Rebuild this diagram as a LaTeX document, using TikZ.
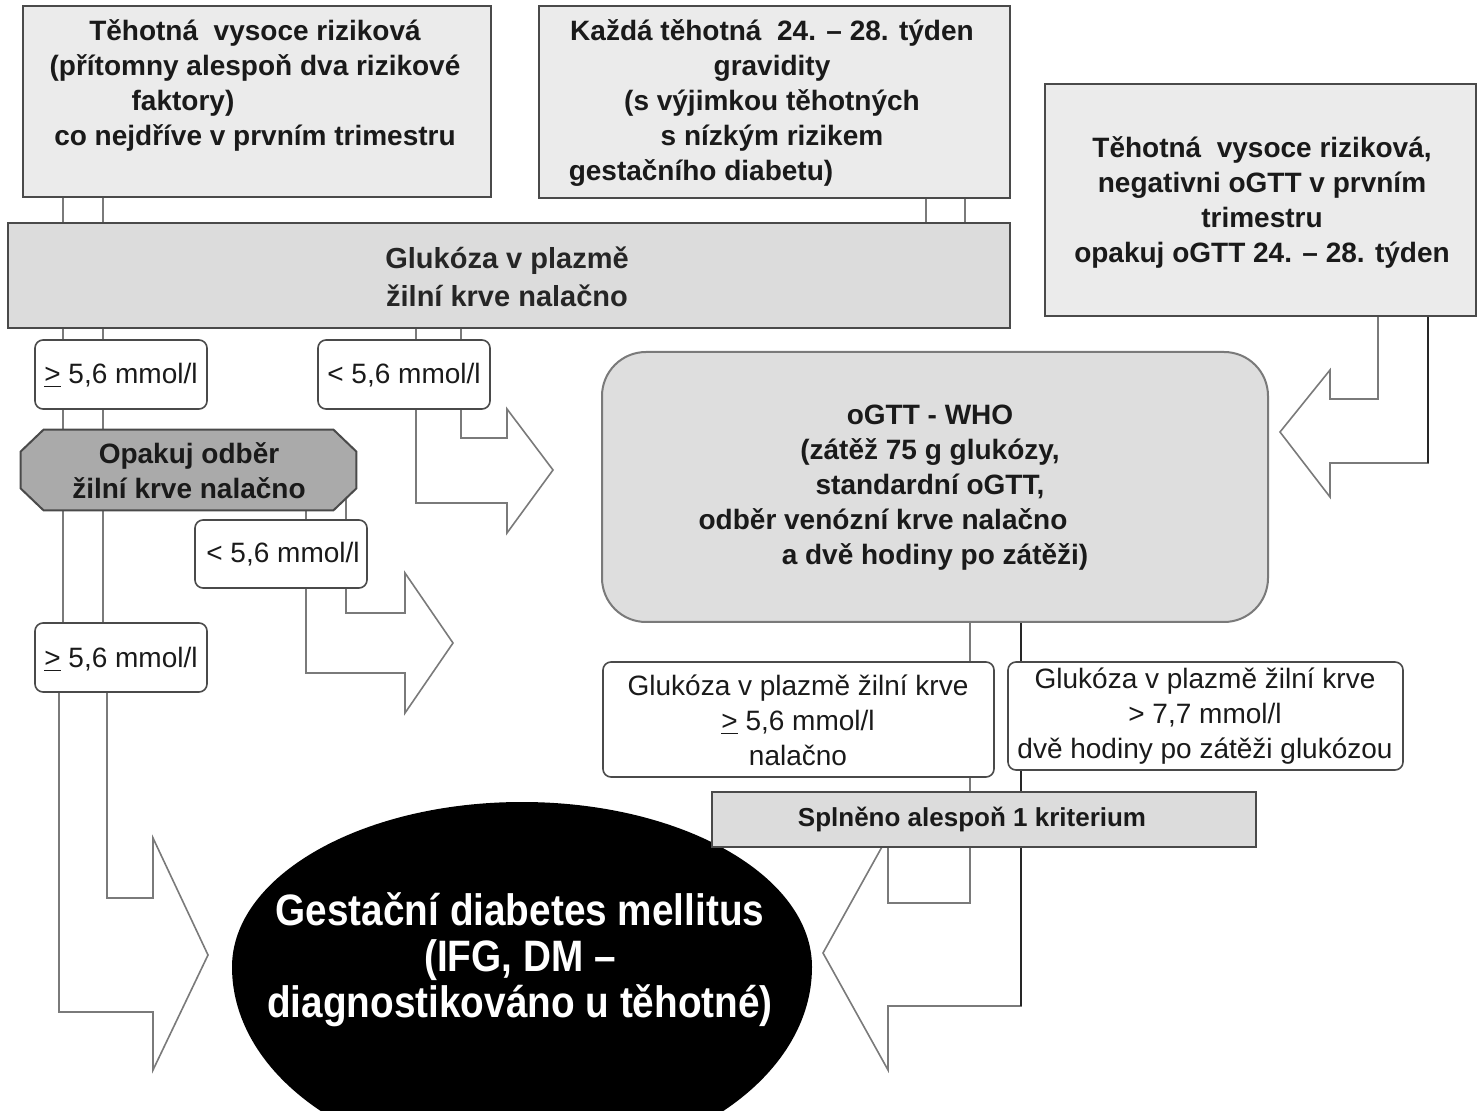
\documentclass[tikz,border=0pt]{standalone}
\usepackage{fontspec}
\setmainfont{Liberation Sans}
\newfontfamily\narrowfont[FakeStretch=0.88]{Liberation Sans}
\definecolor{boxfill}{HTML}{EBEBEB}
\definecolor{barfill}{HTML}{DCDCDC}
\definecolor{ogttfill}{HTML}{DEDEDE}
\definecolor{opkfill}{HTML}{AAAAAA}
\definecolor{edge}{HTML}{4A4A4A}
\definecolor{arrowgray}{HTML}{7A7A7A}
\definecolor{txt}{HTML}{1A1A1A}
\newcommand\pbox[6]{\node[#6, minimum width={(#4-#2)*0.5pt}, minimum height={(#5-#3)*0.5pt}] (#1) at ({(#2+#4)/2},{(#3+#5)/2}) {};}
\tikzset{
  graybox/.style={draw=edge, fill=boxfill, line width=1pt, inner sep=0pt},
  barbox/.style={draw=edge, fill=barfill, line width=1pt, inner sep=0pt},
  valbox/.style={draw=edge, fill=white, rounded corners=4pt, line width=0.8pt, inner sep=0pt},
  ogttbox/.style={draw=arrowgray, fill=ogttfill, rounded corners=22pt, line width=1pt, inner sep=0pt},
  blk/.style={draw=arrowgray, line width=0.8pt, line join=miter},
  darkline/.style={draw=black!85, line width=0.9pt},
  bt/.style={font=\fontsize{14}{17.5}\selectfont\bfseries, text=txt, align=center, inner sep=0pt},
  vt/.style={font=\fontsize{14}{17.5}\selectfont, text=txt, align=center, inner sep=0pt},
}
\begin{document}
\begin{tikzpicture}[x=0.5pt, y=-0.5pt]
\useasboundingbox (0,0) rectangle (1477,1111);
\fill[white] (0,0) rectangle (1477,1111);
\begin{scope}
\clip (0,0) rectangle (1477,1111);

% ---- block arrow outlines (behind boxes) ----
\draw[blk] (63,197) -- (63,623);
\draw[blk] (103,197) -- (103,623);
\draw[blk] (59,692) -- (59,1012) -- (153,1012) -- (153,1070) -- (208,955) -- (153,838) -- (153,898) -- (107,898) -- (107,692);
\draw[blk] (926,198) -- (926,223);
\draw[blk] (965,198) -- (965,223);
\draw[blk] (416,328) -- (416,340);
\draw[blk] (461,328) -- (461,340);
\draw[blk] (461,409) -- (461,438) -- (507,438) -- (507,409) -- (553,470) -- (507,533) -- (507,503) -- (416,503) -- (416,409);
\draw[blk] (306,505) -- (306,520);
\draw[blk] (346,480) -- (346,520);
\draw[blk] (346,588) -- (346,613) -- (405,613) -- (405,573) -- (453,643) -- (405,713) -- (405,673) -- (306,673) -- (306,588);
\draw[blk] (1378,316) -- (1378,399) -- (1330,399) -- (1330,370) -- (1280,432) -- (1330,497) -- (1330,463) -- (1428,463) -- (1428,316);
\draw[darkline] (1428,316) -- (1428,463);
\draw[blk] (970,622) -- (970,903) -- (888,903) -- (888,836) -- (823,953) -- (888,1070) -- (888,1006) -- (1021,1006) -- (1021,622);
\draw[darkline] (1021,622) -- (1021,1006);

% ---- boxes ----
\pbox{boxA}{23}{6}{491}{197}{graybox}
\pbox{boxB}{539}{6}{1010}{198}{graybox}
\pbox{boxC}{1045}{84}{1476}{316}{graybox}
\pbox{bar}{8}{223}{1010}{328}{barbox}
\pbox{vA}{35}{340}{207}{409}{valbox}
\pbox{vB}{318}{340}{490}{409}{valbox}
\pbox{opk}{21}{430}{356}{510}{draw=none, inner sep=0pt}
\draw[draw=edge, fill=opkfill, line width=1pt]
  ([xshift=11.5pt]opk.north west) -- ([xshift=-11.5pt]opk.north east)
  -- ([yshift=-11pt]opk.north east) -- ([yshift=11pt]opk.south east)
  -- ([xshift=-11.5pt]opk.south east) -- ([xshift=11.5pt]opk.south west)
  -- ([yshift=11pt]opk.south west) -- ([yshift=-11pt]opk.north west) -- cycle;
\pbox{vC}{195}{520}{367}{588}{valbox}
\pbox{vD}{35}{623}{207}{692}{valbox}
\pbox{ogtt}{602}{352}{1268}{622}{ogttbox}
\pbox{crD}{603}{662}{994}{777}{valbox}
\pbox{crE}{1008}{662}{1403}{770}{valbox}

% ---- result ellipse ----
\fill[black] (232,967) arc[start angle=180, end angle=360, x radius=290, y radius=165]
  arc[start angle=0, end angle=180, x radius=290, y radius=200] -- cycle;

\pbox{spl}{712}{792}{1256}{847}{barbox}

% ---- texts ----
\node[bt] (boxAt) at (255,85) {Těhotná\ \ vysoce riziková\\(přítomny alespoň dva rizikové\\faktory)\rule{72pt}{0pt}\\co nejdříve v prvním trimestru};
\node[bt] (boxBt) at (772,103) {Každá těhotná\ \ 24. – 28. týden\\gravidity\\(s výjimkou těhotných\\s nízkým rizikem\\gestačního diabetu)\rule{71pt}{0pt}};
\node[bt] (boxCt) at (1262,202) {Těhotná\ \ vysoce riziková,\\negativni oGTT v prvním\\trimestru\\opakuj oGTT 24. – 28. týden};
\node[font=\fontsize{14.5}{19}\selectfont\bfseries, text=black!85, align=center, inner sep=0pt] (bart) at (507,277) {Glukóza v plazmě\\žilní krve nalačno};
\node[vt] (vAt) at (121,375) {\underline{>} 5,6 mmol/l};
\node[vt] (vBt) at (404,375) {< 5,6 mmol/l};
\node[bt] (opkt) at (189,471) {Opakuj odběr\\žilní krve nalačno};
\node[vt] (vCt) at (283,554) {< 5,6 mmol/l};
\node[vt] (vDt) at (121,659) {\underline{>} 5,6 mmol/l};
\node[bt] (ogttt) at (930,488) {oGTT - WHO\\(zátěž 75 g glukózy,\\standardní oGTT,\\odběr venózní krve nalačno\rule{47pt}{0pt}\\\rule{5pt}{0pt}a dvě hodiny po zátěži)};
\node[vt] (crDt) at (798,720) {Glukóza v plazmě žilní krve\\\underline{>} 5,6 mmol/l\\nalačno};
\node[vt] (crEt) at (1205,716) {Glukóza v plazmě žilní krve\\> 7,7 mmol/l\\dvě hodiny po zátěži glukózou};
\node[font=\fontsize{13}{16}\selectfont\bfseries, text=txt, inner sep=0pt] (splt) at (972,819) {Splněno alespoň 1 kriterium};
\node[font=\fontsize{22}{23}\narrowfont\bfseries, text=white, align=center, inner sep=0pt] (gdmt) at (520,960) {Gestační diabetes mellitus\\(IFG, DM –\\diagnostikováno u těhotné)};
\end{scope}
\end{tikzpicture}
\end{document}
